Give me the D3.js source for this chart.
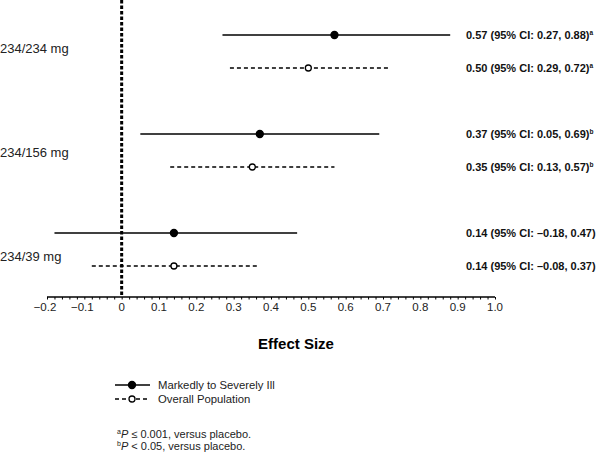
<!DOCTYPE html>
<html><head><meta charset="utf-8">
<script src="https://cdn.jsdelivr.net/npm/d3@7"></script>
<style>body{margin:0;background:#fff}svg{display:block;font-family:"Liberation Sans",Arial,sans-serif}</style>
</head><body><svg id="c" width="600" height="454"></svg>
<script>
const groups = ["234/234 mg", "234/156 mg", "234/39 mg"];
const seriesNames = ["Markedly to Severely Ill", "Overall Population"];
const severeEst = [0.57, 0.37, 0.14];
const severeLo = [0.27, 0.05, -0.18];
const severeHi = [0.88, 0.69, 0.47];
const overallEst = [0.50, 0.35, 0.14];
const overallLo = [0.29, 0.13, -0.08];
const overallHi = [0.72, 0.57, 0.37];
const severeSup = ["a", "b", ""];
const overallSup = ["a", "b", ""];
const tickValues = [-0.2, -0.1, 0, 0.1, 0.2, 0.3, 0.4, 0.5, 0.6, 0.7, 0.8, 0.9, 1.0];
const tickLabels = ["\u22120.2", "\u22120.1", "0", "0.1", "0.2", "0.3", "0.4", "0.5", "0.6", "0.7", "0.8", "0.9", "1.0"];
const footnotes = [["a", "P", " \u2264 0.001, versus placebo."], ["b", "P", " < 0.05, versus placebo."]];

const svg = d3.select("#c");
const x = d3.scaleLinear().domain([-0.2, 1.0]).range([47, 495]);
const rows = [];
groups.forEach((g, i) => {
  rows.push({g: i, s: 0, est: severeEst[i], lo: severeLo[i], hi: severeHi[i], sup: severeSup[i]});
  rows.push({g: i, s: 1, est: overallEst[i], lo: overallLo[i], hi: overallHi[i], sup: overallSup[i]});
});
const gy = d3.scalePoint().domain(d3.range(groups.length)).range([35, 233]);
const sy = d3.scalePoint().domain([0, 1]).range([0, 33]);
const ry = d => gy(d.g) + sy(d.s);
const labelY = d3.scalePoint().domain(d3.range(groups.length)).range([48, 256]);
const axisY = 297;

// zero line
svg.append("line").attr("x1", x(0)).attr("x2", x(0)).attr("y1", 0).attr("y2", axisY)
  .attr("stroke", "#000").attr("stroke-width", 3).attr("stroke-dasharray", "3.5,2");

// axis
const axis = d3.axisBottom(x).tickValues(d3.range(-0.2, 1.0001, 0.02)).tickSize(2.5).tickFormat("");
const ag = svg.append("g").attr("transform", `translate(0,${axisY})`).call(axis);
ag.select(".domain").attr("stroke-width", 1.6).attr("d", `M${x(-0.2)},0H${x(1.0)}`);
ag.selectAll(".tick line").attr("stroke-width", 1);
svg.append("g").selectAll("text").data(tickValues).join("text")
  .attr("x", (d, i) => x(d) - (tickLabels[i].startsWith("\u2212") ? 2 : 0))
  .attr("y", 311).attr("text-anchor", "middle").attr("font-size", 11.5).attr("fill", "#222")
  .text((d, i) => tickLabels[i]);

svg.append("text").attr("x", 296).attr("y", 349).attr("text-anchor", "middle")
  .attr("font-size", 15).attr("font-weight", "bold").text("Effect Size");

// group labels
svg.append("g").selectAll("text").data(groups).join("text")
  .attr("x", 0).attr("y", (d, i) => labelY(i) + 4.5)
  .attr("font-size", 13).attr("fill", "#222").text(d => d);

// CI lines
const rg = svg.append("g").selectAll("g").data(rows).join("g");
rg.append("line").attr("x1", d => x(d.lo)).attr("x2", d => x(d.hi))
  .attr("y1", ry).attr("y2", ry)
  .attr("stroke", "#000").attr("stroke-width", 1.3)
  .attr("stroke-dasharray", d => d.s === 1 ? "4,3" : null);
rg.append("circle").attr("cx", d => x(d.est)).attr("cy", ry)
  .attr("r", d => d.s === 0 ? 3.5 : 3)
  .attr("fill", d => d.s === 0 ? "#000" : "#fff").attr("stroke", "#000").attr("stroke-width", 1.3);
const fmt = v => (v < 0 ? "\u2013" : "") + Math.abs(v).toFixed(2);
const lt = rg.append("text").attr("x", 466).attr("y", d => ry(d) + 4)
  .attr("font-size", 11).attr("font-weight", "bold").attr("fill", "#111");
lt.append("tspan").text(d => `${d.est.toFixed(2)} (95% CI: ${fmt(d.lo)}, ${fmt(d.hi)})`);
lt.append("tspan").attr("font-size", 6.5).attr("dy", -4).text(d => d.sup);

// legend
const leg = svg.append("g").selectAll("g").data(seriesNames).join("g")
  .attr("transform", (d, i) => `translate(0,${385 + i * 14})`);
leg.append("line").attr("x1", 115).attr("x2", 150).attr("stroke", "#000").attr("stroke-width", 1.3)
  .attr("stroke-dasharray", (d, i) => i === 1 ? "4,3" : null);
leg.append("circle").attr("cx", 132).attr("r", (d, i) => i === 0 ? 3.5 : 3)
  .attr("fill", (d, i) => i === 0 ? "#000" : "#fff").attr("stroke", "#000").attr("stroke-width", 1.3);
leg.append("text").attr("x", 158).attr("y", 4).attr("font-size", 11.3).attr("fill", "#222").text(d => d);

// footnotes
const fn = svg.append("g").selectAll("text").data(footnotes).join("text")
  .attr("x", 117).attr("y", (d, i) => 438 + i * 12).attr("font-size", 11).attr("fill", "#222");
fn.append("tspan").attr("font-size", 7).attr("dy", -4).text(d => d[0]);
fn.append("tspan").attr("font-style", "italic").attr("dy", 4).text(d => d[1]);
fn.append("tspan").text(d => d[2]);
</script></body></html>
